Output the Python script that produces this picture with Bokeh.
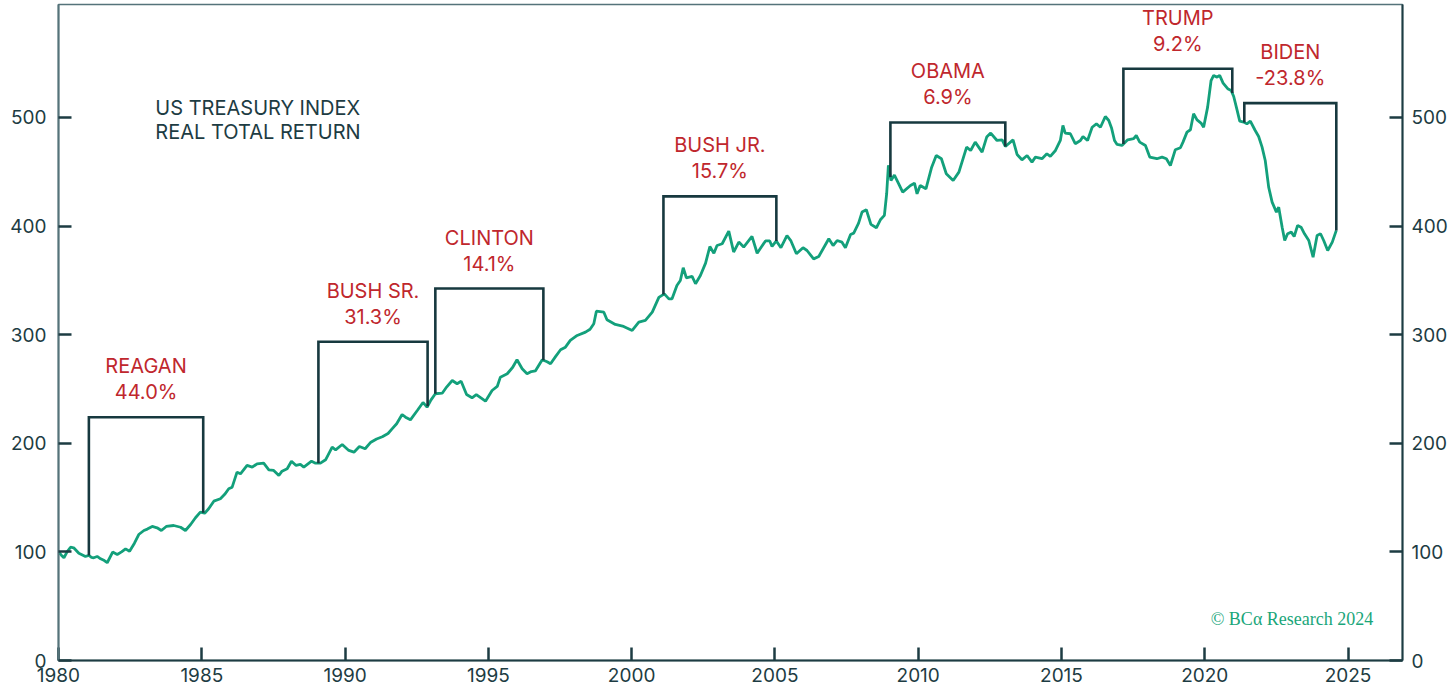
import numpy as np
from bokeh.plotting import figure
from bokeh.models import Range1d, LinearAxis, FixedTicker, Label, ColumnDataSource
from bokeh.core.properties import value
from bokeh.embed import file_html
from bokeh.resources import INLINE

# ---------------- data ----------------
years = [1980.00, 1980.10, 1980.19, 1980.30, 1980.42, 1980.53, 1980.71, 1980.94, 1981.06, 1981.15,
         1981.23, 1981.35, 1981.47, 1981.60, 1981.70, 1981.89, 1982.05, 1982.20, 1982.34, 1982.48,
         1982.65, 1982.80, 1982.98, 1983.10, 1983.27, 1983.44, 1983.59, 1983.76, 1984.02, 1984.26,
         1984.43, 1984.61, 1984.78, 1984.95, 1985.10, 1985.24, 1985.42, 1985.65, 1985.80, 1985.94,
         1986.06, 1986.23, 1986.35, 1986.58, 1986.76, 1986.93, 1987.16, 1987.34, 1987.51, 1987.69,
         1987.80, 1987.98, 1988.13, 1988.29, 1988.44, 1988.56, 1988.83, 1988.97, 1989.14, 1989.32,
         1989.55, 1989.67, 1989.90, 1990.13, 1990.31, 1990.50, 1990.70, 1990.90, 1991.10, 1991.30,
         1991.50, 1991.64, 1991.80, 1991.99, 1992.11, 1992.28, 1992.52, 1992.72, 1992.86, 1993.00,
         1993.15, 1993.39, 1993.55, 1993.74, 1993.91, 1994.05, 1994.24, 1994.43, 1994.58, 1994.90,
         1995.13, 1995.31, 1995.42, 1995.66, 1995.85, 1996.00, 1996.18, 1996.35, 1996.50, 1996.64,
         1996.88, 1997.05, 1997.17, 1997.35, 1997.52, 1997.69, 1997.86, 1998.10, 1998.39, 1998.55,
         1998.68, 1998.77, 1999.03, 1999.14, 1999.43, 1999.72, 2000.02, 2000.25, 2000.48, 2000.72,
         2000.95, 2001.14, 2001.30, 2001.41, 2001.58, 2001.70, 2001.80, 2001.91, 2002.11, 2002.23,
         2002.40, 2002.58, 2002.73, 2002.87, 2002.98, 2003.16, 2003.39, 2003.56, 2003.74, 2003.91,
         2004.20, 2004.38, 2004.67, 2004.82, 2004.90, 2005.05, 2005.21, 2005.42, 2005.56, 2005.75,
         2005.98, 2006.12, 2006.35, 2006.53, 2006.88, 2007.03, 2007.17, 2007.34, 2007.46, 2007.64,
         2007.75, 2007.92, 2008.04, 2008.19, 2008.35, 2008.54, 2008.68, 2008.82, 2008.90, 2008.96,
         2009.05, 2009.17, 2009.32, 2009.46, 2009.73, 2009.87, 2009.96, 2010.07, 2010.27, 2010.47,
         2010.63, 2010.81, 2010.98, 2011.22, 2011.42, 2011.69, 2011.83, 2011.99, 2012.23, 2012.39,
         2012.53, 2012.75, 2012.93, 2013.04, 2013.31, 2013.45, 2013.62, 2013.80, 2013.97, 2014.09,
         2014.32, 2014.49, 2014.61, 2014.79, 2014.96, 2015.05, 2015.13, 2015.31, 2015.48, 2015.66,
         2015.75, 2015.91, 2016.07, 2016.22, 2016.36, 2016.53, 2016.65, 2016.75, 2016.85, 2016.94,
         2017.11, 2017.31, 2017.52, 2017.61, 2017.73, 2017.93, 2018.08, 2018.33, 2018.51, 2018.66,
         2018.80, 2018.97, 2019.15, 2019.24, 2019.38, 2019.50, 2019.61, 2019.73, 2019.87, 2019.96,
         2020.10, 2020.22, 2020.31, 2020.43, 2020.52, 2020.64, 2020.80, 2020.92, 2021.01, 2021.13,
         2021.22, 2021.36, 2021.47, 2021.59, 2021.76, 2021.88, 2022.00, 2022.11, 2022.23, 2022.35,
         2022.50, 2022.58, 2022.70, 2022.79, 2022.89, 2023.02, 2023.12, 2023.24, 2023.36, 2023.48,
         2023.63, 2023.78, 2023.92, 2024.04, 2024.15, 2024.29, 2024.45, 2024.59]

index_values = [100, 97, 94.6, 100, 104.3, 103.8, 98.8, 95.8, 96.7, 95,
                94.6, 95.8, 93.6, 92, 90, 99.8, 97.6, 100, 102.8, 100.6,
                108, 116, 119.7, 121, 123.4, 122.2, 119.7, 123.4, 124.3, 122.7,
                119.7, 125.2, 131.4, 136.6, 135.6, 139.7, 146.7, 148.9, 153, 158.1,
                159.6, 173.4, 171.9, 179.6, 178, 181.1, 181.7, 175.6, 175, 170.3,
                174.3, 176.5, 183.5, 179.6, 180.5, 178, 183.5, 181.7, 181.7, 184.8,
                196.4, 194, 198.9, 193.4, 191.8, 197, 195, 201, 204, 206,
                209, 213.3, 218, 226.5, 224, 221.6, 230.2, 237.6, 233.2, 240,
                245.6, 246.1, 252, 257.8, 254.8, 257.2, 244.9, 241.9, 244.9, 238.8,
                248.6, 252.3, 260.9, 264, 270, 276.9, 268.6, 264, 266, 266.6,
                276.9, 275, 273.2, 280, 286.1, 288.5, 294.7, 299.3, 302.3, 305,
                310, 321.6, 320.7, 313.7, 309.4, 307.6, 303.9, 311.5, 313.1, 320.7,
                334.3, 337.6, 333, 333, 345.3, 349.9, 361.6, 352.4, 353.6, 346.9,
                354.5, 365.9, 381.2, 375, 382.1, 383.7, 395.4, 376.1, 385.3, 380.7,
                390.5, 375, 386.3, 386.3, 381.2, 386.3, 380.1, 391.3, 386.3, 374.5,
                380.1, 377.5, 369.8, 372, 388.3, 382.1, 386.7, 385.2, 380.1, 392.3,
                393.5, 402.7, 412.9, 415, 401.5, 398.4, 405.8, 409.8, 430, 456,
                442, 447, 438.9, 431.2, 437.4, 439.5, 429.7, 437.4, 434.3, 454.2,
                465, 462, 448.2, 442, 449.7, 472.7, 469.6, 477.3, 468.1, 481.9,
                485.6, 478.8, 479.4, 473.3, 479.4, 465.9, 461, 465, 458.9, 463.5,
                462, 466.6, 464.1, 469.6, 478.8, 492.6, 485.6, 485, 475.8, 478.8,
                482.5, 478.8, 491, 494.1, 491, 500.9, 497.2, 490, 478.8, 475.1,
                474.2, 479.4, 480.4, 483.4, 477.3, 474.2, 463.5, 462, 463.5, 462,
                455.8, 470.2, 472.1, 477.3, 486.5, 488.7, 503.4, 497.8, 494.8, 491,
                509.5, 534, 538.7, 537.1, 538.7, 531.6, 526.5, 524.9, 519.3, 506.5,
                496.6, 495.7, 494.1, 496.6, 488, 482.5, 472.7, 460.4, 435.8, 422,
                412.8, 417.4, 399, 386.7, 392.9, 394.4, 390.4, 400.6, 399, 392.9,
                386.7, 371.4, 391.3, 392.9, 386.7, 377.5, 385.2, 396]

presidents = ["REAGAN", "BUSH SR.", "CLINTON", "BUSH JR.", "OBAMA", "TRUMP", "BIDEN"]
term_returns = ["44.0%", "31.3%", "14.1%", "15.7%", "6.9%", "9.2%", "-23.8%"]
term_start = [1981.06, 1989.07, 1993.15, 2001.11, 2009.03, 2017.16, 2021.38]
term_end = [1985.05, 1992.88, 1996.92, 2005.05, 2013.04, 2020.96, 2024.59]
bracket_top = [224, 293.5, 342.5, 427.3, 495.4, 544.8, 513.2]

x_ticks = [1980, 1985, 1990, 1995, 2000, 2005, 2010, 2015, 2020, 2025]
y_ticks = [0, 100, 200, 300, 400, 500]

# ---------------- styles ----------------
DARK = "#17393f"
AXIS = "#1d3c43"
FRAME = "#55737a"
GREEN = "#13a07b"
RED = "#c0272d"
FONT = "Inter"

p = figure(width=1455, height=694, output_backend="svg", toolbar_location=None,
           x_range=Range1d(1980, 2026.9), y_range=Range1d(0, 604),
           min_border_left=58, min_border_right=53, min_border_top=4, min_border_bottom=34)
p.grid.visible = False
p.background_fill_color = "white"
p.border_fill_color = "white"
p.outline_line_color = FRAME
p.outline_line_width = 1.5

def style_axis(ax, ticks):
    ax.ticker = FixedTicker(ticks=ticks)
    ax.axis_line_color = AXIS
    ax.axis_line_width = 2
    ax.major_tick_line_color = AXIS
    ax.major_tick_line_width = 2.5
    ax.major_tick_in = 13
    ax.major_tick_out = 0
    ax.minor_tick_line_color = None
    ax.major_label_text_font = FONT
    ax.major_label_text_font_size = "19px"
    ax.major_label_text_color = AXIS

style_axis(p.xaxis[0], x_ticks)
p.xaxis[0].major_label_standoff = 7
style_axis(p.yaxis[0], y_ticks)
p.yaxis[0].major_label_standoff = 12
p.yaxis[0].axis_line_color = FRAME

right = LinearAxis()
style_axis(right, y_ticks)
right.major_label_standoff = 9
p.add_layout(right, "right")

# series
p.line(years, index_values, line_color=GREEN, line_width=2.8)

# brackets
yr = np.array(years)
vals = np.array(index_values)
xs, ys = [], []
for s, e, t in zip(term_start, term_end, bracket_top):
    v0 = float(np.interp(s, yr, vals))
    v1 = float(np.interp(e, yr, vals))
    xs.append([s, s, e, e])
    ys.append([v0, t, t, v1])
p.multi_line(xs, ys, line_color=DARK, line_width=2.6, line_join="miter")

mid = [(s + e) / 2 for s, e in zip(term_start, term_end)]
src = ColumnDataSource(dict(x=mid, y=bracket_top, name=presidents, ret=term_returns))
p.text(x="x", y="y", text="name", source=src, y_offset=-51, text_align="center",
       text_baseline="middle", text_color=RED, text_font=value(FONT), text_font_size="20px")
p.text(x="x", y="y", text="ret", source=src, y_offset=-25, text_align="center",
       text_baseline="middle", text_color=RED, text_font=value(FONT), text_font_size="20px")

# title
p.add_layout(Label(x=1983.38, y=509, text="US TREASURY INDEX", text_font=FONT,
                   text_font_size="20px", text_color=AXIS, text_baseline="middle"))
p.add_layout(Label(x=1983.38, y=487, text="REAL TOTAL RETURN", text_font=FONT,
                   text_font_size="20px", text_color=AXIS, text_baseline="middle"))

# copyright
p.add_layout(Label(x=2025.88, y=38, text="© BCα Research 2024", text_font="Liberation Serif",
                   text_font_size="18px", text_color="#1aa67a", text_align="right",
                   text_baseline="middle"))

open("out.html", "w").write(file_html(p, INLINE))
